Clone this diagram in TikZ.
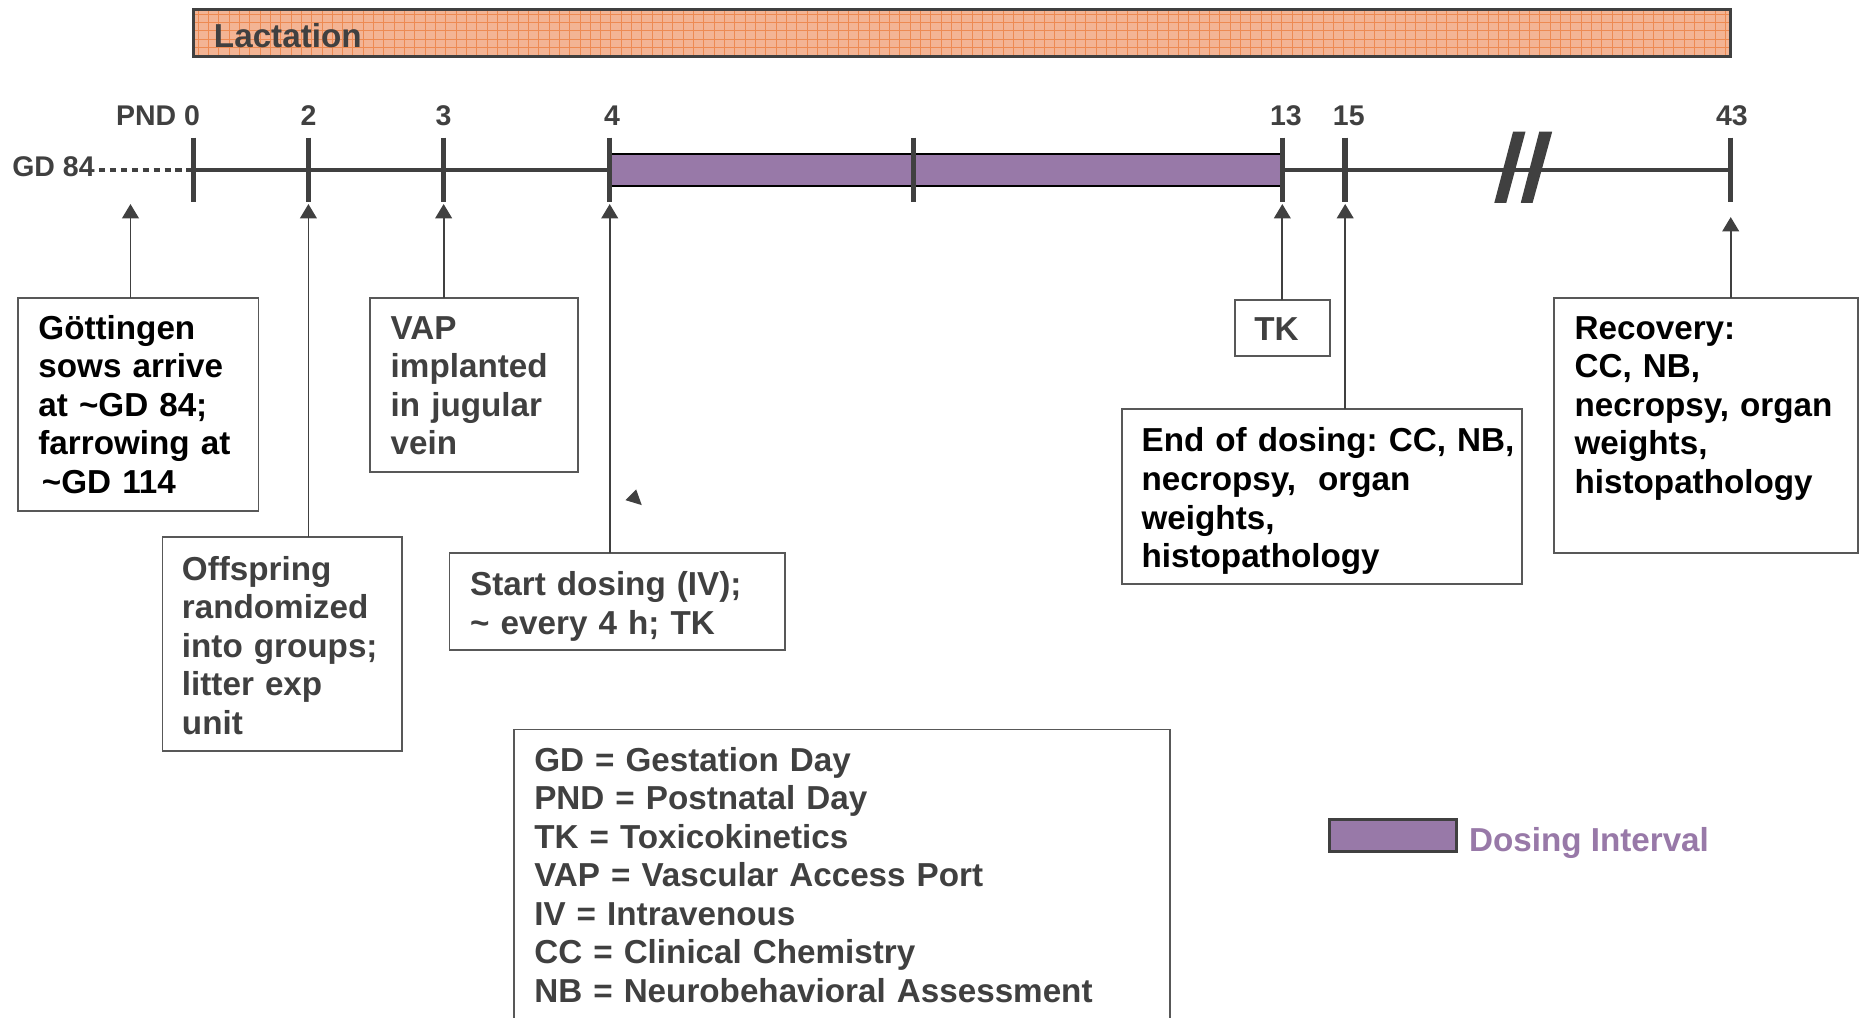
\documentclass[tikz,border=0pt]{standalone}
\usepackage{fontspec}
\setmainfont{Liberation Sans}
\usetikzlibrary{arrows.meta}
\definecolor{dgray}{RGB}{64,64,64}
\definecolor{bgray}{RGB}{88,88,88}
\definecolor{dose}{RGB}{152,121,168}
\definecolor{lactfill}{RGB}{243,180,148}
\definecolor{lactgrid}{RGB}{236,128,66}
\newcommand\bxf{\fontsize{14pt}{16.25pt}\selectfont\bfseries}
\newcommand\lbf{\fontsize{12pt}{14pt}\selectfont\bfseries}
\frenchspacing
\begin{document}
\begin{tikzpicture}[x=0.5pt,y=-0.5pt,
  box/.style={draw=bgray, line width=0.75pt, anchor=north west, inner sep=0pt, outer sep=0pt, fill=white},
  txt/.style={anchor=base west, inner sep=0pt, text width=300pt, align=left, font=\bxf},
  lbl/.style={inner sep=0pt, font=\lbf, text=dgray},
  tl/.style={draw=dgray, line width=1.9pt},
  tick/.style={draw=dgray, line width=2.3pt},
  arr/.style={draw=dgray, line width=0.75pt, -{Triangle[length=6pt,width=7pt]}},
  dots/.style={draw=dgray, line width=1.9pt, dash pattern=on 2.7pt off 1.9pt}]
\clip (0,0) rectangle (1568,858);
\fill[white] (0,0) rectangle (1568,858);

% Lactation bar
\node[box, draw=none, fill=lactfill, minimum width=648pt, minimum height=20pt] (lact) at (163,8) {};
\begin{scope}
  \clip (163,8) rectangle (1459,48);
  \foreach \i in {0,...,149} \draw[lactgrid!80!lactfill, line width=0.35pt] ({167+\i*8.7},8) -- ++(0,40);
  \foreach \y in {12,19,26,33,40,47} \draw[lactgrid!80!lactfill, line width=0.35pt] (163,\y) -- (1459,\y);
\end{scope}
\draw[dgray, line width=1.3pt] (lact.north west) rectangle (lact.south east);
\node[anchor=base west, inner sep=0pt, font=\bxf, text=dgray] (lacttxt) at (180,40) {Lactation};

% timeline
\coordinate (t0) at (163,143.3);
\coordinate (tend) at (1459,143.3);
\draw[tl] (t0) -- (tend);
\node[lbl, anchor=base west] (gd) at (10,149) {GD 84};
\draw[dots] (83.5,143.3) -- (t0);
\draw[fill=dose, draw=black, line width=0.9pt] (514,130) rectangle (1081,156.5);
\foreach \x in {163,260,374,514,770,1081,1134,1459} \draw[tick] (\x,116) -- (\x,170);
\fill[dgray] (1259.7,171) -- (1269.8,171) -- (1286,111) -- (1275.5,111) -- cycle;
\fill[dgray] (1282,171) -- (1292,171) -- (1308.5,111) -- (1297.6,111) -- cycle;

\node[lbl, anchor=base east] (l0) at (169,106) {PND 0};
\node[lbl, anchor=base] (l2) at (260,106) {2};
\node[lbl, anchor=base] (l3) at (374,106) {3};
\node[lbl, anchor=base] (l4) at (516,106) {4};
\node[lbl, anchor=base] (l13) at (1084,106) {13};
\node[lbl, anchor=base] (l15) at (1137,106) {15};
\node[lbl, anchor=base] (l43) at (1460,106) {43};

% arrow tips
\coordinate (a0) at (110,172);
\coordinate (a2) at (260,172);
\coordinate (a3) at (374,172);
\coordinate (a4) at (514,172);
\coordinate (a13) at (1081,172);
\coordinate (a15) at (1134,172);
\coordinate (a43) at (1459,183);

% boxes
\node[box, minimum width=101.5pt, minimum height=90pt] (gott) at (15,251) {};
\node[txt] (gotttxt) at (32,286) {G\"ottingen\\sows arrive\\at \textasciitilde GD 84;\\farrowing at\\\hspace*{1.5pt}\textasciitilde GD 114};

\node[box, minimum width=87.5pt, minimum height=73.5pt] (vap) at (312,251) {};
\node[txt, text=dgray] (vaptxt) at (329,286) {VAP\\implanted\\in jugular\\vein};

\node[box, minimum width=101pt, minimum height=90pt] (offs) at (137,453) {};
\node[txt, text=dgray] (offstxt) at (153,489) {Offspring\\randomized\\into groups;\\litter exp\\unit};

\node[box, minimum width=141.5pt, minimum height=41pt] (start) at (379,466) {};
\node[txt, text=dgray] (starttxt) at (396,502) {Start dosing (IV);\\\textasciitilde{} every 4 h; TK};

\node[box, minimum width=40pt, minimum height=23.5pt] (tk) at (1041,253) {};
\node[txt, text=dgray] (tktxt) at (1057,287) {TK};

\node[box, minimum width=168.5pt, minimum height=73.5pt] (endd) at (946,345) {};
\node[txt] (enddtxt) at (962,381) {End of dosing: CC, NB,\\necropsy, \ organ\\weights,\\histopathology};

\node[box, minimum width=128pt, minimum height=107.5pt] (recov) at (1310,251) {};
\node[txt] (recovtxt) at (1327,286) {Recovery:\\CC, NB,\\necropsy, organ\\weights,\\histopathology};

\node[box, minimum width=276.5pt, minimum height=127.5pt] (legend) at (433,615) {};
\node[txt, text=dgray] (legendtxt) at (450,650) {GD = Gestation Day\\PND = Postnatal Day\\TK = Toxicokinetics\\VAP = Vascular Access Port\\IV = Intravenous\\CC = Clinical Chemistry\\NB = Neurobehavioral Assessment};

% connectors
\draw[arr] (gott.north -| a0) -- (a0);
\draw[arr] (offs.north -| a2) -- (a2);
\draw[arr] (vap.north -| a3) -- (a3);
\draw[arr] (start.north -| a4) -- (a4);
\draw[arr] (tk.north -| a13) -- (a13);
\draw[arr] (endd.north -| a15) -- (a15);
\draw[arr] (recov.north -| a43) -- (a43);

% stray arrowhead
\fill[dgray] (536.3,412.6) -- (527.2,421.6) -- (541,425.8) -- cycle;

% dosing interval key
\node[box, draw=dgray, line width=1.2pt, fill=dose, minimum width=53.5pt, minimum height=13.5pt] (dkey) at (1121,691) {};
\node[anchor=base west, inner sep=0pt, font=\bxf, text=dose] (dkeytxt) at (1238,718) {Dosing Interval};
\end{tikzpicture}
\end{document}
